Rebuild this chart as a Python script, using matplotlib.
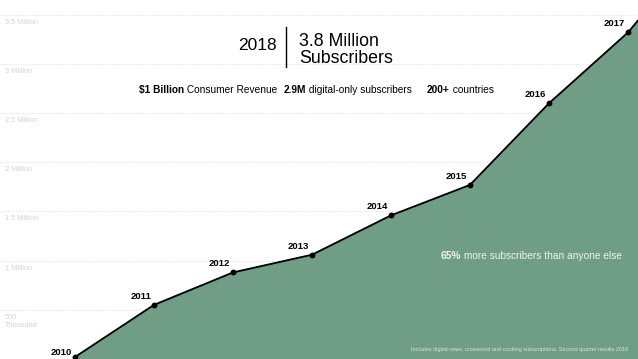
import matplotlib
matplotlib.use('Agg')
from matplotlib import pyplot as plt

plt.rcParams['font.family'] = ['Liberation Sans', 'DejaVu Sans']

# subscribers in millions
years = [2010, 2011, 2012, 2013, 2014, 2015, 2016, 2017]
subs = [0.02, 0.55, 0.88, 1.06, 1.46, 1.77, 2.60, 3.32]
# mid 2018 (second quarter) value, runs off the right edge
x_2018 = 2017.5
subs_2018 = 3.8

grid_vals = [0.5, 1.0, 1.5, 2.0, 2.5, 3.0, 3.5]
grid_labels = ['500\nThousand', '1 Million', '1.5 Million', '2 Million',
               '2.5 Million', '3 Million', '3.5 Million']

W, H = 638, 359
fig = plt.figure(figsize=(W / 100, H / 100), dpi=100)
ax = fig.add_axes([0, 0, 1, 1])

xs = years + [x_2018]
ys = subs + [subs_2018]

for g, lab in zip(grid_vals, grid_labels):
    ax.axhline(g, color='#e6e6e6', lw=0.8, ls=(0, (1, 1)), zorder=0)
    ax.text(5 / W, g - 0.04, lab, fontsize=5.3, color='#d4d4d4',
            va='top', ha='left', transform=ax.get_yaxis_transform(),
            linespacing=1.3)

ax.fill_between(xs, ys, 0, color='#709d86', zorder=1)
ax.plot(xs, ys, color='black', lw=1.3, zorder=2)
ax.plot(years, subs, 'o', color='black', ms=3.2, zorder=3)

for yr, v in zip(years, subs):
    off = (-2, 0) if yr == 2010 else (-2, 3)
    ax.annotate(str(yr), (yr, v), xytext=off, textcoords='offset points',
                ha='right', va='bottom', fontsize=6.8, fontweight='bold')

ax.set_xlim(2010 - 75 / 79, 2010 + (W - 75) / 79)
ax.set_ylim(0, 3.65)
ax.axis('off')

# headline block
fig.text(257 / W, 1 - 46 / H, '2018', fontsize=12.5, ha='center', va='center')
fig.add_artist(plt.Line2D([286 / W, 286 / W], [1 - 27 / H, 1 - 67 / H],
                          color='black', lw=1.0))
fig.text(299 / W, 1 - 50 / H, '3.8 Million\nSubscribers', fontsize=12.8,
         ha='left', va='center', linespacing=0.95)


def mixed(x, y, bold, rest, color='black', size=7.3):
    t = fig.text(x / W, 1 - y / H, bold, fontsize=size, fontweight='bold',
                 color=color, va='center', ha='left')
    ax.annotate(' ' + rest, xy=(1, 0), xycoords=t, va='bottom', ha='left',
                fontsize=size, color=color)


mixed(139, 90, '$1 Billion', 'Consumer Revenue')
mixed(284, 90, '2.9M', 'digital-only subscribers')
mixed(427, 90, '200+', 'countries')
mixed(441, 256, '65%', 'more subscribers than anyone else', color='#eef3ef')

fig.text(628 / W, 1 - 349 / H,
         'Includes digital news, crossword and cooking subscriptions. '
         'Second quarter results 2018',
         fontsize=4, color='#d8e3dc', ha='right', va='center')

fig.savefig('out.png', dpi=100)
